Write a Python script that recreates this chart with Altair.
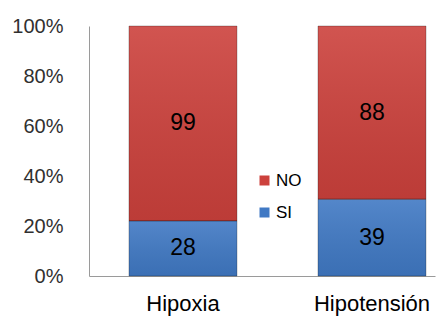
import altair as alt
import pandas as pd

categories = ["Hipoxia", "Hipoxia", "Hipotensión", "Hipotensión"]
series = ["SI", "NO", "SI", "NO"]
values = [28, 99, 39, 88]
order = [0, 1, 0, 1]

df = pd.DataFrame({"cat": categories, "serie": series, "val": values, "ord": order})

FONT = "Liberation Sans"

base = alt.Chart(df).transform_stack(
    stack="val", groupby=["cat"], as_=["y0", "y1"], offset="normalize",
    sort=[alt.SortField("ord", order="ascending")]
).transform_calculate(mid="(datum.y0 + datum.y1) / 2")

xenc = alt.X("cat:N", sort=["Hipoxia", "Hipotensión"], title=None,
             scale=alt.Scale(paddingInner=0.4286, paddingOuter=0.1296, align=0.816),
             axis=alt.Axis(labelAngle=0, labelFontSize=22, labelColor="#000000",
                           labelPadding=17, ticks=False, domainColor="#9a9a9a",
                           labelFont=FONT))

bars = base.mark_bar(stroke=None).encode(
    x=xenc,
    y=alt.Y("y0:Q", scale=alt.Scale(domain=[0, 1]), title=None,
            axis=alt.Axis(format="%", values=[0, 0.2, 0.4, 0.6, 0.8, 1.0], grid=False,
                          ticks=False, domainColor="#9a9a9a", labelFontSize=20,
                          labelColor="#303030", labelPadding=26, labelFont=FONT)),
    y2="y1:Q",
    color=alt.Color("serie:N", scale=alt.Scale(domain=["NO", "SI"], range=["#CC413C", "#4079C4"]),
                    legend=alt.Legend(title=None, orient="none", legendX=167, legendY=146,
                                      symbolType="square", symbolSize=100, labelFontSize=17,
                                      labelFont=FONT, labelColor="#000000", rowPadding=14,
                                      labelOffset=3, symbolStrokeWidth=0)),
)

shade = base.mark_bar(
    fill=alt.Gradient(gradient="linear", x1=0, x2=0, y1=0, y2=1,
                      stops=[alt.GradientStop(color="rgba(255,255,255,0.10)", offset=0),
                             alt.GradientStop(color="rgba(0,0,0,0.08)", offset=1)]),
    stroke="rgba(0,0,0,0.25)", strokeWidth=1
).encode(x=alt.X("cat:N", sort=["Hipoxia", "Hipotensión"]), y="y0:Q", y2="y1:Q")

labels = base.mark_text(fontSize=23, font=FONT, color="#000000").encode(
    x=alt.X("cat:N", sort=["Hipoxia", "Hipotensión"]),
    y="mid:Q",
    text="val:Q",
)

chart = alt.layer(bars, shade, labels).properties(
    width=346, height=250,
    padding={"left": 89, "top": 26, "right": 4, "bottom": 51},
    autosize=alt.AutoSizeParams(type="none"),
).configure_view(stroke=None)

chart.save("out.html", embed_options={"renderer": "svg", "actions": False})
